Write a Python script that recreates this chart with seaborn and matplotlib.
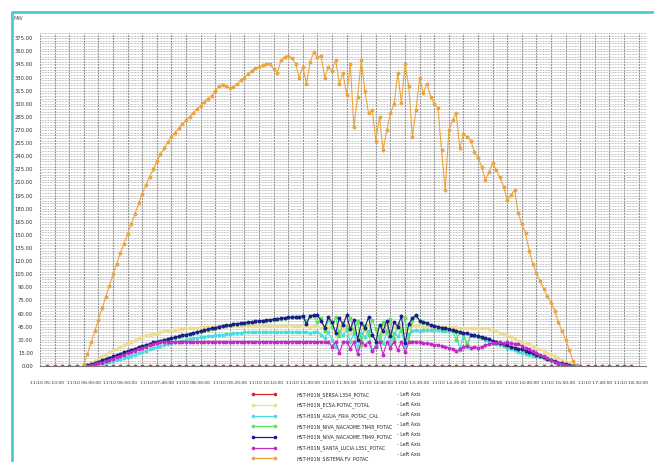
import matplotlib
matplotlib.use('Agg')
import matplotlib.pyplot as plt
import matplotlib.dates as mdates
from matplotlib import font_manager
from matplotlib.lines import Line2D
from matplotlib.ticker import MultipleLocator, FormatStrFormatter
import pandas as pd
import seaborn as sns

# series names as in the legend
names = [
    'HST-H01N_SERSA.L354_POTAC',
    'HST-H01N_ECSA.POTAC_TOTAL',
    'HST-H01N_AGUA_FRIA_POTAC_CAL',
    'HST-H01N_NIVA_NACAOME.TN48_POTAC',
    'HST-H01N_NIVA_NACAOME.TN49_POTAC',
    'HST-H01N_SANTA_LUCIA.L351_POTAC',
    'HST-H01N_SISTEMA.FV_POTAC',
]
colors = ['#d42a2a', '#f0dc8e', '#4cdcdc', '#5ee35e', '#1c1c8a', '#c22ac8', '#eba53e']

# SERSA: 10 min samples 05:10 - 18:30
sersa = [0, 0, 0, 0, 0, 0, 0, 0, 0, 0, 0, 0, 0, 0, 0, 0, 0, 0, 0, 0, 0, 0, 0, 0, 0, 0, 0,
         0, 0, 0, 0, 0, 0, 0, 0, 0, 0, 0, 0, 0, 0, 0, 0, 0, 0, 0, 0, 0, 0, 0, 0, 0, 0, 0,
         0, 0, 0, 0, 0, 0, 0, 0, 0, 0, 0, 0, 0, 0, 0, 0, 0, 0, 0, 0, 0, 0, 0, 0, 0, 0, 0]

# the rest: 5 min samples from 06:00 (one row per hour)
ecsa = [0, 2, 4, 6, 8.5, 11, 13, 15.5, 18, 20, 22, 24,
        26, 28, 30, 32, 33.5, 35, 36, 37, 38, 39, 39.5, 40,
        41, 41.5, 42, 42.5, 43, 43.5, 44, 44, 44.5, 44.5, 45, 45,
        45, 45.5, 45.5, 45.5, 46, 46, 46, 46, 46, 46, 46, 46,
        46, 46, 46, 46, 46, 46, 46, 46, 46, 46, 46, 46,
        46, 46, 45, 46, 46, 44, 40, 45, 43, 36, 46, 42,
        47, 38, 44, 33, 45, 40, 47, 35, 30, 44, 38, 46,
        36, 45, 42, 47, 33, 44, 46, 47, 46, 45, 45, 45,
        45, 45, 45, 45, 45, 44.5, 44.5, 44, 44, 44, 44, 44,
        44, 43.5, 43, 42, 41, 39.5, 38, 36.5, 35, 33, 31, 29,
        28, 26.5, 25, 23, 21, 19, 17, 15, 13, 11, 9, 7,
        5, 3, 1.5, 0]

agua_fria = [0, 0, 0.5, 1, 2, 3, 4, 5, 6, 7, 8, 9,
             10, 11.5, 13, 14.5, 16, 17.5, 19, 20.5, 22, 23, 24, 25,
             26, 27, 28, 29, 30, 31, 31.5, 32, 33, 33.5, 34, 34.5,
             35, 35.5, 36, 36.5, 37, 37.5, 38, 38, 38.5, 38.5, 39, 39,
             39, 39, 39, 39, 39, 39, 39, 39, 39, 39, 39, 39,
             39, 39, 38, 39, 39, 36, 32, 39, 30, 22, 40, 35,
             41, 28, 37, 20, 38, 33, 40, 18, 24, 36, 26, 39,
             25, 38, 34, 41, 22, 37, 40, 41, 40, 41, 41, 41,
             41, 41, 40.5, 40, 40, 39.5, 39, 18, 37, 22, 35, 34,
             33, 31.5, 30, 28.5, 27, 25.5, 24, 22.5, 21, 19.5, 18, 16.5,
             15, 14, 13, 12, 11, 10, 9, 8, 6.5, 5, 3.5, 2,
             1, 0.5, 0, 0]

tn48 = [0, 1, 2, 3, 4.5, 6, 7.5, 9, 10.5, 12, 13.5, 15,
        16.5, 18, 19.5, 21, 22.5, 23.5, 25, 26.5, 27.5, 28.5, 29.5, 30.5,
        31.5, 32.5, 33.5, 34.5, 35.5, 36.5, 37.5, 38.5, 39.5, 40.5, 41.5, 42.5,
        43.5, 44.5, 45.5, 46, 46.5, 47.5, 48, 48.5, 49, 49.5, 50, 50.5,
        51, 51.5, 52, 52.5, 53, 53.5, 54, 54.5, 55, 55.5, 55.5, 56,
        56.5, 52, 57, 57.5, 50, 55, 40, 53, 45, 56, 34, 50,
        44, 55, 38, 52, 24, 47, 35, 53, 42, 30, 50, 39,
        54, 31, 48, 40, 55, 29, 52, 57, 51, 49.5, 48.5, 46.5,
        45.5, 44.5, 43.5, 42.5, 41.5, 40.5, 30, 38.5, 37.5, 25, 35.5, 34.5,
        34, 32.5, 31.5, 30, 28.5, 27, 25.5, 24.5, 23, 21.5, 20.5, 19.5,
        18.5, 17, 15.5, 14, 12.5, 11, 9.5, 8, 6.5, 5, 3.5, 2.5,
        1.5, 0.5, 0, 0]

tn49 = [0, 1, 2, 3.5, 5, 6.5, 8, 9.5, 11, 12.5, 14, 15.5,
        17, 18.5, 20, 21.5, 23, 24, 25.5, 27, 28, 29, 30, 31,
        32, 33, 34, 35, 36, 37, 38, 39, 40, 41, 42, 43,
        44, 45, 46, 46.5, 47, 48, 48.5, 49, 49.5, 50, 50.5, 51,
        51.5, 52, 52.5, 53, 53.5, 54, 54.5, 55, 55.5, 56, 56, 56.5,
        57, 48, 57.5, 58, 58, 52, 44, 56, 50, 38, 55, 47,
        58, 42, 53, 30, 49, 44, 56, 36, 28, 47, 40, 52,
        34, 50, 45, 57, 26, 48, 55, 58, 52, 50, 49, 47,
        46, 45, 44, 43, 42, 41, 40, 39, 38, 37.5, 36, 35,
        34.5, 33, 32, 30.5, 29, 27.5, 26, 25, 23.5, 22, 21, 20,
        19, 17.5, 16, 14.5, 13, 11.5, 10, 8.5, 7, 5.5, 4, 3,
        2, 1, 0.5, 0]

santa_lucia = [0, 0.5, 1, 2, 3, 4, 5.5, 7, 8.5, 10, 11.5, 13,
               14.5, 16, 17.5, 19, 20.5, 22, 23.5, 25, 26.5, 27.5, 28, 28,
               28, 28, 28, 28, 28, 28, 28, 28, 28, 28, 28, 28,
               28, 28, 28, 28, 28, 28, 28, 28, 28, 28, 28, 28,
               28, 28, 28, 28, 28, 28, 28, 28, 28, 28, 28, 28,
               28, 28, 28, 28, 28, 28, 27, 28, 22, 28, 15, 27,
               28, 20, 27, 14, 28, 24, 28, 17, 22, 28, 13, 27,
               21, 28, 18, 28, 16, 27, 28, 28, 27, 26, 26, 25,
               24, 24, 23, 22, 21, 20, 17, 19, 22, 23, 21, 22,
               21, 22, 24, 25, 26, 26, 27, 26, 27, 26, 25, 25,
               23, 21, 19, 17, 15, 13, 11, 9, 7, 5, 3.5, 2,
               1, 0.5, 0, 0]

sistema_fv = [2, 14, 27, 40, 53, 66, 79, 92, 105, 117, 129, 140,
              151, 163, 174, 186, 197, 207, 216, 225, 234, 242, 249, 256,
              262, 267, 272, 277, 281, 285, 290, 294, 298, 302, 306, 309,
              315, 320, 322, 320, 318, 319, 323, 327, 330, 334, 338, 341,
              342, 344, 345, 346, 340, 335, 350, 353, 355, 352, 346, 330,
              342, 323, 348, 359, 353, 355, 330, 342, 338, 350, 323, 335,
              310, 345, 273, 308, 350, 315, 289, 293, 258, 285, 247, 270,
              289, 300, 335, 301, 346, 320, 262, 293, 330, 312, 323, 308,
              300, 295, 247, 201, 270, 281, 289, 249, 266, 262, 258, 245,
              238, 228, 213, 222, 232, 224, 216, 205, 190, 196, 201, 175,
              162, 152, 132, 117, 106, 97, 88, 80, 72, 63, 50, 40,
              30, 18, 6, 0]

day = '2016-11-10 '
frames = [pd.DataFrame({'time': pd.date_range(day + '05:10', periods=len(sersa), freq='10min'),
                        'MW': sersa, 'serie': names[0]})]
for name, vals in zip(names[1:], [ecsa, agua_fria, tn48, tn49, santa_lucia, sistema_fv]):
    frames.append(pd.DataFrame({'time': pd.date_range(day + '06:00', periods=len(vals), freq='5min'),
                                'MW': vals, 'serie': name}))
df = pd.concat(frames, ignore_index=True)

sns.set_style('white')
try:
    font_manager.findfont('Liberation Sans Narrow', fallback_to_default=False)
    fam, k = 'Liberation Sans Narrow', 1.0
except ValueError:
    fam, k = 'DejaVu Sans', 0.75
plt.rcParams['font.family'] = [fam, 'DejaVu Sans']

fig = plt.figure(figsize=(6.54, 4.62), dpi=100)
ax = fig.add_axes([40 / 654, 1 - 366 / 462, 606 / 654, 333 / 462])

# background grid: every 3 MW and every 20 minutes
ax.yaxis.set_major_locator(MultipleLocator(15))
ax.yaxis.set_minor_locator(MultipleLocator(3))
ax.grid(which='both', axis='y', color='#a0a0a0', lw=0.55, ls=(0, (1, 1)))
ax.vlines(pd.date_range(day + '05:00', day + '18:40', freq='20min'), 0, 381,
          color='#8a8a8a', lw=0.7, ls=(0, (2, 1)), zorder=0)

sns.lineplot(data=df, x='time', y='MW', hue='serie', hue_order=names,
             palette=dict(zip(names, colors)), estimator=None, legend=False,
             marker='o', markersize=2.8, markeredgewidth=0, linewidth=0.8, ax=ax)

ax.set_xlim(pd.Timestamp(day + '05:00'), pd.Timestamp(day + '18:50'))
ax.set_ylim(0, 381)
ax.set_xlabel('')
ax.set_ylabel('')
ax.set_axisbelow(True)

ax.set_xticks(pd.date_range(day + '05:10', day + '18:30', freq='50min'))
ax.set_xticks(pd.date_range(day + '05:00', day + '18:50', freq='10min'), minor=True)
ax.xaxis.set_major_formatter(mdates.DateFormatter('%m/%d %H:%M:%S'))
ax.yaxis.set_major_formatter(FormatStrFormatter('%.2f'))

ax.tick_params(axis='x', which='both', length=4.5, width=0.6, color='#666666', pad=6.5,
               labelsize=4.3 * k, labelcolor='#333333')
ax.tick_params(axis='y', which='both', length=3, width=0.5, color='#555555', pad=2,
               labelsize=5.0 * k, labelcolor='#333333')
for s in ['top', 'right', 'left']:
    ax.spines[s].set_visible(False)
ax.spines['bottom'].set_color('#777777')
ax.spines['bottom'].set_linewidth(0.8)

# legend below the chart
handles = [Line2D([], [], color=c, lw=0.9, marker='o', markersize=2.6, markeredgewidth=0)
           for c in colors]
fs = 4.6 * k
fig.legend(handles, names, loc='upper left', bbox_to_anchor=(252 / 654, 1 - 392 / 462),
           frameon=False, fontsize=fs, numpoints=2, handlelength=3.9 / k,
           handletextpad=3.1 / k, labelspacing=0.78 / k, borderpad=0, borderaxespad=0)
blank = [Line2D([], [], alpha=0) for _ in names]
fig.legend(blank, ['- Left Axis'] * len(names), loc='upper left',
           bbox_to_anchor=(397 / 654, 1 - 392 / 462), frameon=False, fontsize=fs,
           handlelength=0, handletextpad=0, labelspacing=0.78 / k, borderpad=0,
           borderaxespad=0)

fig.text(13 / 654, 1 - 19 / 462, 'MW', fontsize=5 * k, color='#4a5a7a', va='center')

# light cyan frame of the window (top and left)
fig.add_artist(Line2D([12 / 654, 12 / 654, 1], [0, 1 - 12 / 462, 1 - 12 / 462],
                      transform=fig.transFigure, color='#4cc9d9', lw=2))

fig.savefig('out.png', dpi=100)
